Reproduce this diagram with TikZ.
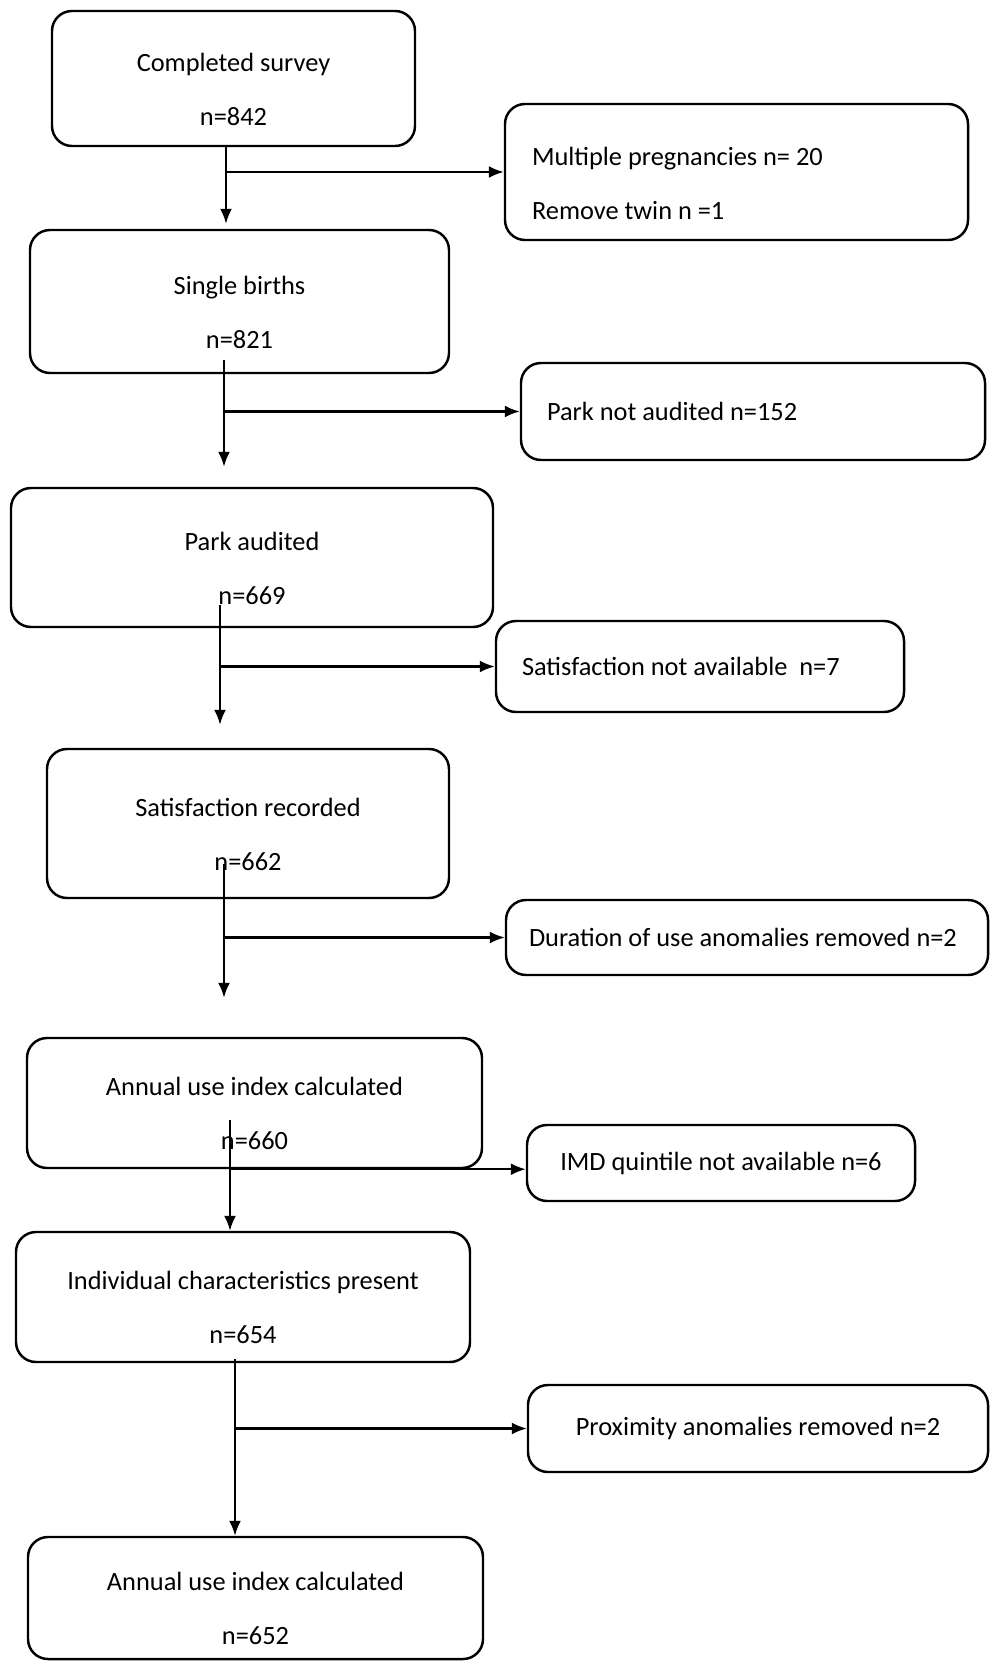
\documentclass[tikz,border=0pt]{standalone}
\usepackage{fontspec}
\setmainfont{Carlito}
\usetikzlibrary{arrows.meta}
\tikzset{
	box/.style={draw, line width=0.7pt, rounded corners=0.2cm, align=center, inner sep=0pt, font=\fontsize{7.5}{15.4}\selectfont},
	stagebox/.style={box, text height=26.6pt},
	outbox/.style={box, align=flush left, text width=#1},
	flow/.style={line width=0.6pt, -{Latex[length=0.15cm,width=0.12cm]}}
}

\begin{document}
\begin{tikzpicture}
			%%%%% START %%%%%
			\useasboundingbox (0, 0) rectangle (9.9, -16.61);
			
			% main column
			\node[stagebox, minimum width=3.63cm, minimum height=1.35cm] (b1) at (2.335, -0.785) {Completed survey\\n=842};
			\node[stagebox, minimum width=4.19cm, minimum height=1.43cm] (b3) at (2.395, -3.015) {Single births\\n=821};
			\node[stagebox, minimum width=4.82cm, minimum height=1.39cm] (b5) at (2.52, -5.575) {Park audited\\n=669};
			\node[stagebox, minimum width=4.02cm, minimum height=1.49cm] (b7) at (2.48, -8.235) {Satisfaction recorded\\n=662};
			\node[stagebox, minimum width=4.55cm, minimum height=1.30cm] (b9) at (2.545, -11.03) {Annual use index calculated\\n=660};
			\node[stagebox, minimum width=4.54cm, minimum height=1.30cm] (b11) at (2.43, -12.97) {Individual characteristics present\\n=654};
			\node[stagebox, minimum width=4.55cm, minimum height=1.22cm] (b13) at (2.555, -15.98) {Annual use index calculated\\n=652};
			
			% excluded
			\node[outbox=4.09cm, minimum width=4.63cm, minimum height=1.36cm, text height=11.6pt] (b2) at (7.365, -1.72) {Multiple pregnancies n= 20\\Remove twin n =1};
			\node[outbox=4.12cm, minimum width=4.64cm, minimum height=0.97cm] (b4) at (7.53, -4.115) {Park not audited n=152};
			\node[outbox=3.56cm, minimum width=4.08cm, minimum height=0.91cm] (b6) at (7.00, -6.665) {Satisfaction not available~~n=7};
			\node[outbox=4.36cm, minimum width=4.82cm, minimum height=0.75cm] (b8) at (7.47, -9.375) {Duration of use anomalies removed n=2};
			\node[box, minimum width=3.88cm, minimum height=0.76cm] (b10) at (7.21, -11.63) {IMD quintile not available n=6};
			\node[box, minimum width=4.60cm, minimum height=0.87cm] (b12) at (7.58, -14.285) {Proximity anomalies removed n=2};
			
			% arrows
			\coordinate (s1) at ([xshift=-0.075cm]b1.south);
			\draw[flow] (s1) -- ([yshift=0.05cm]s1 |- b3.north);
			\draw[flow] (s1 |- b2.west) -- (b2.west);
			
			\coordinate (s2) at ([xshift=-0.155cm, yshift=0.14cm]b3.south);
			\draw[flow] (s2) -- ([yshift=0.20cm]s2 |- b5.north);
			\draw[flow] (s2 |- b4.west) -- (b4.west);
			
			\coordinate (s3) at ([xshift=-0.32cm, yshift=0.23cm]b5.south);
			\draw[flow] (s3) -- ([yshift=0.23cm]s3 |- b7.north);
			\draw[flow] (s3 |- b6.west) -- (b6.west);
			
			\coordinate (s4) at ([xshift=-0.24cm, yshift=0.35cm]b7.south);
			\draw[flow] (s4) -- ([yshift=0.39cm]s4 |- b9.north);
			\draw[flow] (s4 |- b8.west) -- (b8.west);
			
			\coordinate (s5) at ([xshift=-0.245cm, yshift=0.49cm]b9.south);
			\draw[flow] (s5) -- (s5 |- b11.north);
			\draw[flow] (s5 |- b9.south) -- (b9.south -| b10.west);
			
			\coordinate (s6) at ([xshift=-0.08cm, yshift=0.045cm]b11.south);
			\draw[flow] (s6) -- (s6 |- b13.north);
			\draw[flow] (s6 |- b12.west) -- (b12.west);
			
			%%%%% END %%%%%
\end{tikzpicture}
\end{document}
